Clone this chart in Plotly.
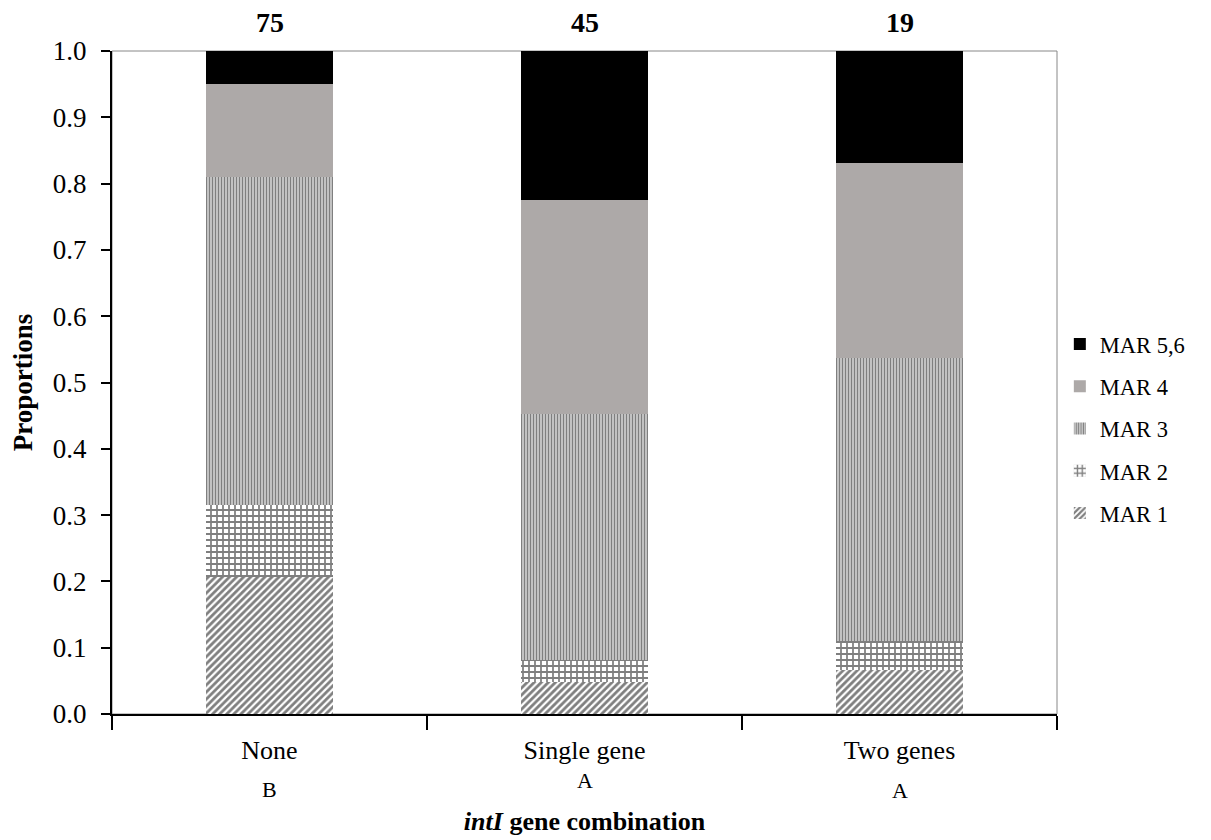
import plotly.graph_objects as go

categories = ["None", "Single gene", "Two genes"]
sample_sizes = ["75", "45", "19"]
group_letters = ["B", "A", "A"]

series_names = ["MAR 1", "MAR 2", "MAR 3", "MAR 4", "MAR 5,6"]
mar1 = [0.207, 0.048, 0.066]
mar2 = [0.108, 0.033, 0.044]
mar3 = [0.495, 0.372, 0.427]
mar4 = [0.140, 0.323, 0.294]
mar56 = [0.050, 0.224, 0.169]
series_values = [mar1, mar2, mar3, mar4, mar56]
legend_ranks = [5, 4, 3, 2, 1]

y_ticks = [0.0, 0.1, 0.2, 0.3, 0.4, 0.5, 0.6, 0.7, 0.8, 0.9, 1.0]

FONT = "Liberation Serif, Times New Roman, serif"

styles = [
    dict(color="white", pattern=dict(shape="/", fgcolor="#000000", bgcolor="white", size=5, solidity=0.55)),
    dict(color="white", pattern=dict(shape="+", fgcolor="#000000", bgcolor="white", size=6, solidity=0.5)),
    dict(color="white", pattern=dict(shape="|", fgcolor="#000000", bgcolor="white", size=3, solidity=0.65)),
    dict(color="#ADA9A8"),
    dict(color="#000000"),
]

fig = go.Figure()
for i, (name, vals) in enumerate(zip(series_names, series_values)):
    fig.add_trace(go.Bar(
        x=categories, y=vals, name=name, width=0.406,
        marker=dict(line=dict(width=0), **styles[i]),
        legendgroup=name, legendrank=legend_ranks[i],
    ))

annotations = []
for c, n in zip(categories, sample_sizes):
    annotations.append(dict(x=c, y=1, xref="x", yref="paper", text="<b>" + n + "</b>",
                            showarrow=False, yanchor="middle", yshift=29,
                            font=dict(family=FONT, size=28, color="black")))
letter_shift = [-75, -66, -76]
for c, l, s in zip(categories, group_letters, letter_shift):
    annotations.append(dict(x=c, y=0, xref="x", yref="paper", text=l,
                            showarrow=False, yanchor="middle", yshift=s,
                            font=dict(family=FONT, size=22, color="black")))

fig.update_layout(
    width=1211, height=840,
    margin=dict(l=104, r=162, t=43, b=134, autoexpand=False),
    barmode="stack",
    plot_bgcolor="white", paper_bgcolor="white",
    font=dict(family=FONT, color="black"),
    showlegend=True,
    legend=dict(traceorder="grouped", tracegroupgap=10,
                x=1.003, xanchor="left", y=0.43, yanchor="middle",
                font=dict(family=FONT, size=22.5, color="black"),
                bgcolor="rgba(0,0,0,0)"),
    xaxis=dict(showline=True, linecolor="black", linewidth=2,
               ticks="outside", tickson="boundaries", ticklen=14, tickwidth=2, tickcolor="black",
               ticklabelstandoff=12,
               tickfont=dict(family=FONT, size=26, color="black"),
               title=dict(text="<b><i>intI</i> gene combination</b>", standoff=48,
                          font=dict(family=FONT, size=26, color="black")),
               showgrid=False),
    yaxis=dict(range=[0, 1], tickvals=y_ticks, tickformat=".1f",
               showline=True, linecolor="black", linewidth=2,
               ticks="outside", ticklen=9, tickwidth=2, tickcolor="black",
               ticklabelstandoff=9,
               tickfont=dict(family=FONT, size=27, color="black"),
               title=dict(text="<b>Proportions</b>", standoff=14,
                          font=dict(family=FONT, size=27, color="black")),
               showgrid=False, zeroline=False),
    yaxis2=dict(range=[0, 1], tickvals=y_ticks, overlaying="y", side="left", anchor="x",
                ticks="inside", ticklen=8, tickwidth=2, tickcolor="black",
                showticklabels=False, showline=False, showgrid=False, zeroline=False),
    annotations=annotations,
    shapes=[dict(type="rect", xref="paper", yref="paper", x0=0, x1=1, y0=0, y1=1,
                 line=dict(color="#888888", width=1), layer="below")],
)

fig.write_html("out.html")
